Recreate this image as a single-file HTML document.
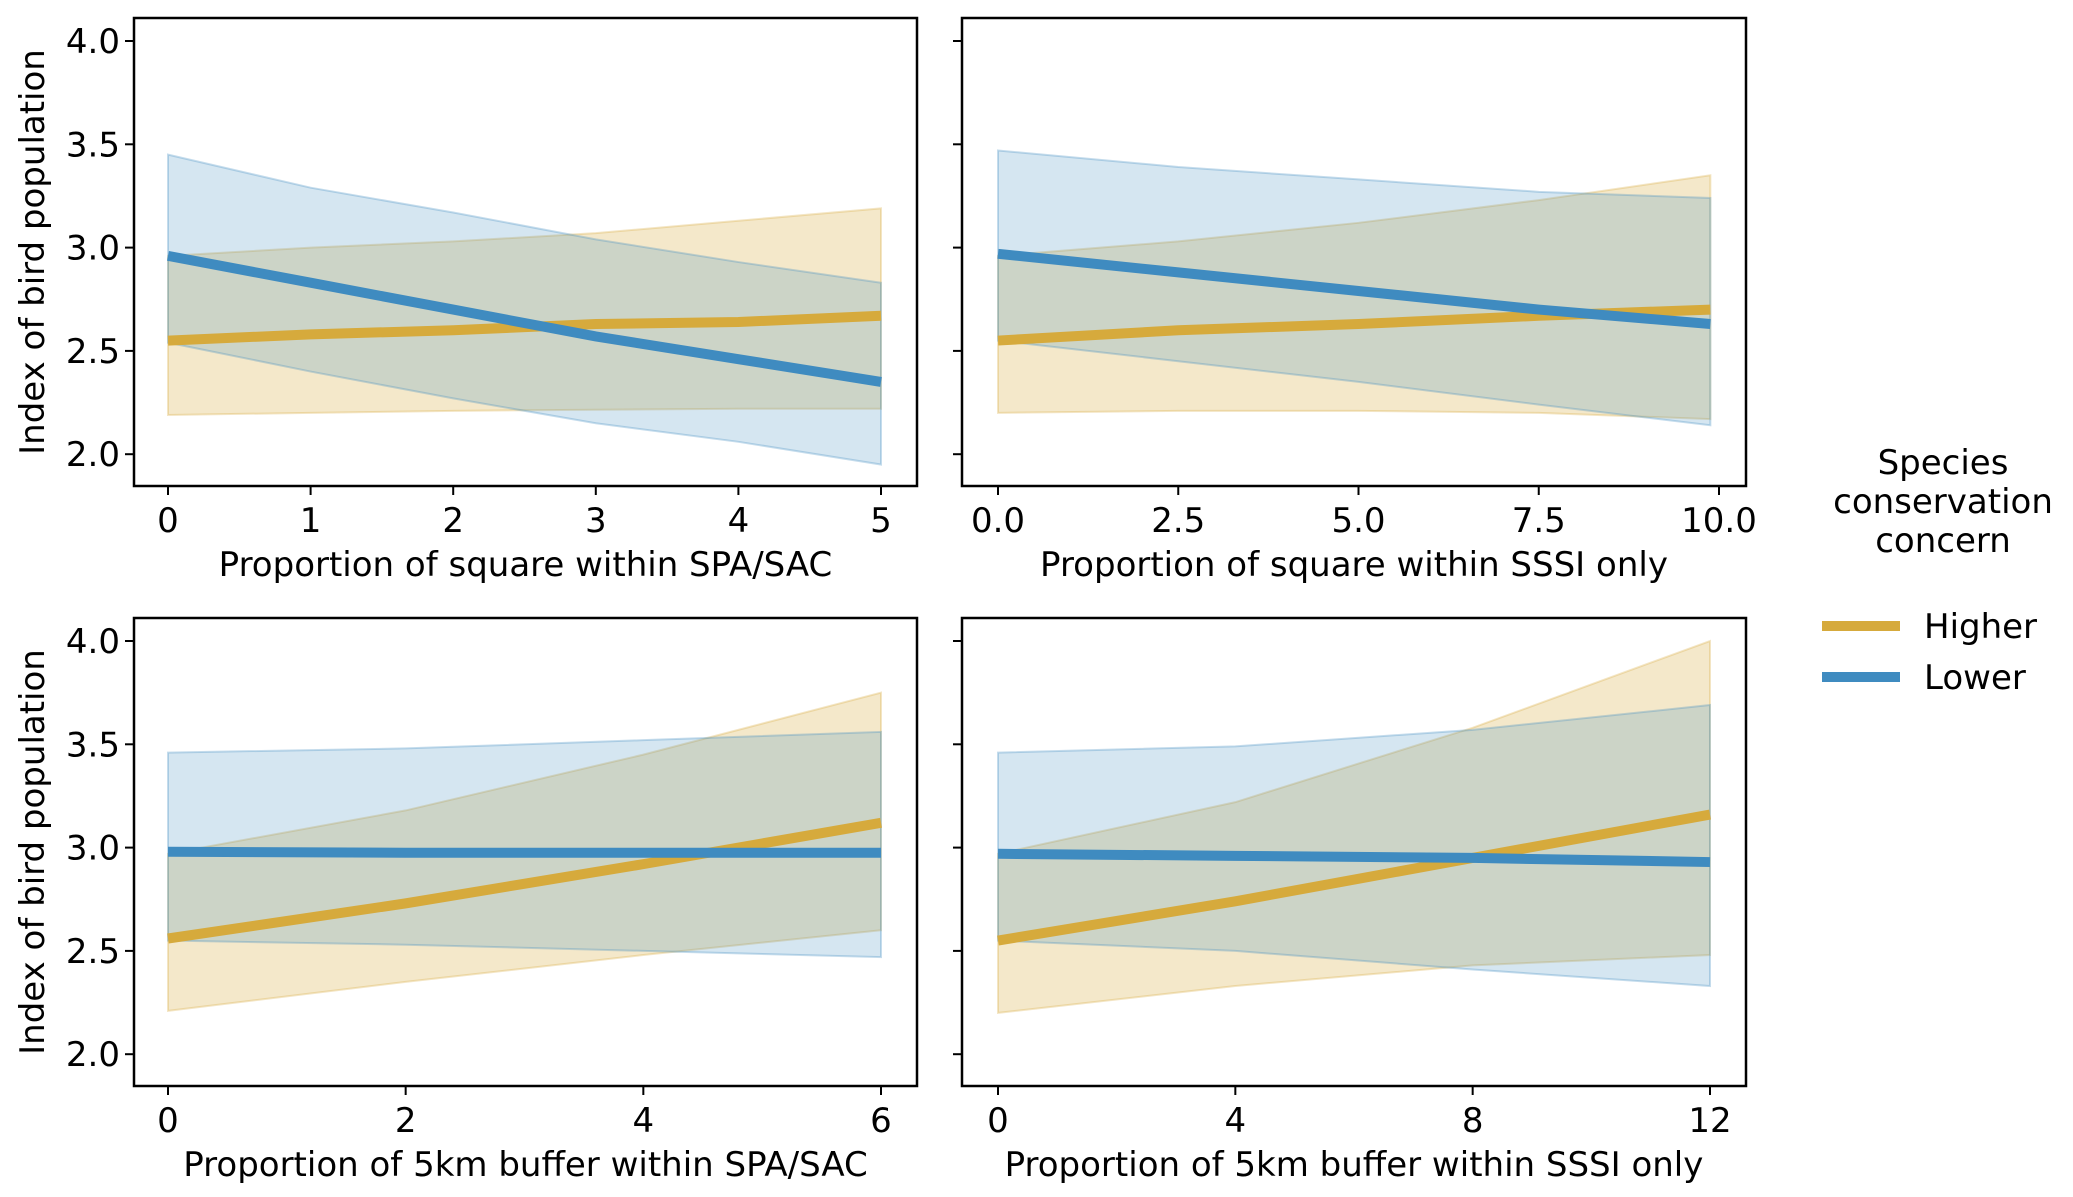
<!DOCTYPE html>
<html><head><meta charset="utf-8">
<style>
html,body{margin:0;padding:0;background:#fff;}
svg{display:block;font-family:"DejaVu Sans","Liberation Sans",sans-serif;}
</style></head>
<body>
<svg id="chart" width="2073" height="1197" viewBox="0 0 2073 1197" xmlns="http://www.w3.org/2000/svg"></svg>
<script>
// ---- data ----
const p1X=[0,1,2,3,4,5];
const p1HighLine=[2.55,2.58,2.60,2.63,2.64,2.67];
const p1HighLo=[2.19,2.20,2.21,2.215,2.22,2.22];
const p1HighHi=[2.96,3.00,3.03,3.07,3.13,3.19];
const p1LowLine=[2.96,2.83,2.70,2.57,2.46,2.35];
const p1LowLo=[2.54,2.40,2.27,2.15,2.06,1.95];
const p1LowHi=[3.45,3.29,3.17,3.04,2.93,2.83];

const p2X=[0,2.5,5,7.5,9.88];
const p2HighLine=[2.55,2.60,2.63,2.67,2.70];
const p2HighLo=[2.20,2.21,2.21,2.20,2.17];
const p2HighHi=[2.96,3.03,3.12,3.23,3.35];
const p2LowLine=[2.97,2.88,2.79,2.70,2.63];
const p2LowLo=[2.55,2.45,2.35,2.24,2.14];
const p2LowHi=[3.47,3.39,3.33,3.27,3.24];

const p3X=[0,2,4,6];
const p3HighLine=[2.56,2.73,2.92,3.12];
const p3HighLo=[2.21,2.35,2.48,2.60];
const p3HighHi=[2.97,3.18,3.45,3.75];
const p3LowLine=[2.98,2.975,2.975,2.975];
const p3LowLo=[2.55,2.53,2.50,2.47];
const p3LowHi=[3.46,3.48,3.52,3.56];

const p4X=[0,4,8,12];
const p4HighLine=[2.55,2.74,2.95,3.16];
const p4HighLo=[2.20,2.33,2.43,2.48];
const p4HighHi=[2.97,3.22,3.58,4.00];
const p4LowLine=[2.97,2.96,2.95,2.93];
const p4LowLo=[2.55,2.50,2.41,2.33];
const p4LowHi=[3.46,3.49,3.57,3.69];

const yTicks=[2.0,2.5,3.0,3.5,4.0];
const yTickLabels=["2.0","2.5","3.0","3.5","4.0"];
const p1Ticks=[0,1,2,3,4,5];
const p1TickLabels=["0","1","2","3","4","5"];
const p2Ticks=[0,2.5,5,7.5,10];
const p2TickLabels=["0.0","2.5","5.0","7.5","10.0"];
const p3Ticks=[0,2,4,6];
const p3TickLabels=["0","2","4","6"];
const p4Ticks=[0,4,8,12];
const p4TickLabels=["0","4","8","12"];
const xTitles=["Proportion of square within SPA/SAC","Proportion of square within SSSI only","Proportion of 5km buffer within SPA/SAC","Proportion of 5km buffer within SSSI only"];

const GOLD="#d6aa3c", BLUE="#3f8bc0";
const FS=34;
const svg=document.getElementById('chart');
const NS="http://www.w3.org/2000/svg";
function mk(tag,attrs,parent){const e=document.createElementNS(NS,tag);for(const k in attrs)e.setAttribute(k,attrs[k]);(parent||svg).appendChild(e);return e;}

const panels=[
 {n:1,L:134,R:917,T:18,x0px:168,scale:(881-168)/5,X:p1X,hl:p1HighLine,hlo:p1HighLo,hhi:p1HighHi,ll:p1LowLine,llo:p1LowLo,lhi:p1LowHi,ticks:p1Ticks,tl:p1TickLabels,title:xTitles[0],left:true},
 {n:2,L:962,R:1746,T:18,x0px:998,scale:(1719-998)/10,X:p2X,hl:p2HighLine,hlo:p2HighLo,hhi:p2HighHi,ll:p2LowLine,llo:p2LowLo,lhi:p2LowHi,ticks:p2Ticks,tl:p2TickLabels,title:xTitles[1],left:false},
 {n:3,L:134,R:917,T:618,x0px:168,scale:(881-168)/6,X:p3X,hl:p3HighLine,hlo:p3HighLo,hhi:p3HighHi,ll:p3LowLine,llo:p3LowLo,lhi:p3LowHi,ticks:p3Ticks,tl:p3TickLabels,title:xTitles[2],left:true},
 {n:4,L:962,R:1746,T:618,x0px:998,scale:(1710-998)/12,X:p4X,hl:p4HighLine,hlo:p4HighLo,hhi:p4HighHi,ll:p4LowLine,llo:p4LowLo,lhi:p4LowHi,ticks:p4Ticks,tl:p4TickLabels,title:xTitles[3],left:false}
];
const H=468;
panels.forEach(p=>{
  const g=mk('g',{});
  
  
  const xs=v=>p.x0px+v*p.scale;
  const ys=v=>p.T+23+(4.0-v)*206.6;
  function band(lo,hi,fill,op,name){
    let d='M'+p.X.map((x,i)=>xs(x)+','+ys(hi[i])).join(' L');
    for(let i=p.X.length-1;i>=0;i--) d+=' L'+xs(p.X[i])+','+ys(lo[i]);
    d+=' Z';
    const e=mk('path',{d:d,fill:fill,'fill-opacity':op,stroke:fill,'stroke-opacity':0.3,'stroke-width':2},g);
    
    
  }
  function line(vals,col,name){
    const e=mk('polyline',{points:p.X.map((x,i)=>xs(x)+','+ys(vals[i])).join(' '),fill:'none',stroke:col,'stroke-width':10},g);
    
    
  }
  band(p.hlo,p.hhi,GOLD,0.27,'higher-ci-band');
  band(p.llo,p.lhi,BLUE,0.22,'lower-ci-band');
  line(p.hl,GOLD,'higher-line');
  line(p.ll,BLUE,'lower-line');
  const fr=mk('rect',{x:p.L,y:p.T,width:p.R-p.L,height:H,fill:'none',stroke:'#000','stroke-width':2.5},g);
  
  
  yTicks.forEach((v,i)=>{
    const t=mk('line',{x1:p.L-9,x2:p.L,y1:ys(v),y2:ys(v),stroke:'#000','stroke-width':2},g);
    
    
    if(p.left){
      const tx=mk('text',{x:p.L-14,y:ys(v)+12,'text-anchor':'end','font-size':FS,fill:'#000'},g);
      tx.textContent=yTickLabels[i];
      
      
    }
  });
  p.ticks.forEach((v,i)=>{
    const t=mk('line',{x1:xs(v),x2:xs(v),y1:p.T+H,y2:p.T+H+9,stroke:'#000','stroke-width':2},g);
    
    
    const tx=mk('text',{x:xs(v),y:p.T+H+46,'text-anchor':'middle','font-size':FS,fill:'#000'},g);
    tx.textContent=p.tl[i];
    
    
  });
  const xt=mk('text',{x:(p.L+p.R)/2,y:p.T+H+90,'text-anchor':'middle','font-size':FS,fill:'#000'},g);
  xt.textContent=p.title;
  
  
  if(p.left){
    const cy=p.T+H/2;
    const yt=mk('text',{x:0,y:0,transform:'translate(44,'+cy+') rotate(-90)','text-anchor':'middle','font-size':FS,fill:'#000'},g);
    yt.textContent='Index of bird population';
    
    
  }
});
// legend
const lg=mk('g',{});


["Species","conservation","concern"].forEach((s,i)=>{
  const t=mk('text',{x:1943,y:474+i*39,'text-anchor':'middle','font-size':FS,fill:'#000'},lg);
  t.textContent=s;
  
  
});
[["Higher",GOLD,626],["Lower",BLUE,677]].forEach(e=>{
  const l=mk('line',{x1:1822,x2:1900,y1:e[2],y2:e[2],stroke:e[1],'stroke-width':10},lg);
  
  
  const t=mk('text',{x:1924,y:e[2]+12,'font-size':FS,fill:'#000'},lg);
  t.textContent=e[0];
  
  
});
</script>
</body></html>
